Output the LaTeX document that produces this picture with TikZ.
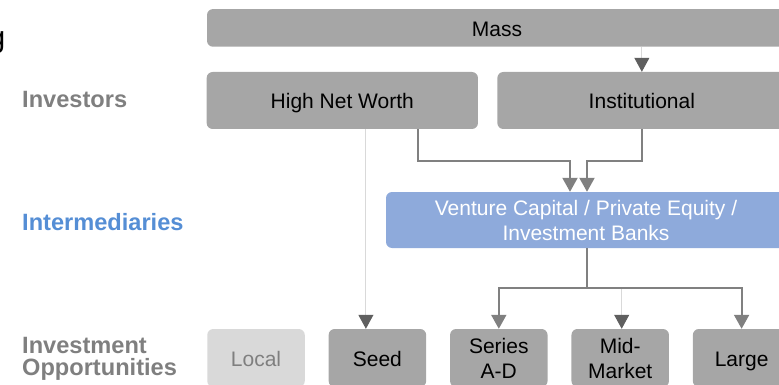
\documentclass[tikz,border=0pt]{standalone}
\usepackage{fontspec}
\setmainfont{Liberation Sans}
\usepackage{xcolor}
\definecolor{boxgray}{HTML}{A6A6A6}
\definecolor{localgray}{HTML}{D9D9D9}
\definecolor{txtgray}{HTML}{7F7F7F}
\definecolor{linegray}{HTML}{808080}
\definecolor{lightline}{HTML}{D9D9D9}
\definecolor{tipdark}{HTML}{5F5F5F}
\definecolor{vcblue}{HTML}{8EAADB}
\definecolor{labelblue}{HTML}{558ED5}
\usetikzlibrary{positioning, arrows.meta}

\begin{document}
\begin{tikzpicture}[x=1pt, y=-1pt,
    box/.style={rectangle, fill=boxgray, rounded corners=6pt, inner sep=0pt,
                align=center, font=\fontsize{21}{25}\selectfont},
    oneline/.style={text height=16.5pt, text depth=0pt},
    oppbox/.style={box, minimum width=97.5pt, minimum height=58pt},
    vcbox/.style={box, fill=vcblue, text=white},
    rowlbl/.style={font=\fontsize{23.6}{22}\selectfont\bfseries, text=txtgray, inner sep=0pt},
    thickarr/.style={-{Triangle[length=14pt, width=15pt]}, line width=2pt, linegray},
    thinarr/.style={-{Triangle[length=14pt, width=15pt, color=tipdark]}, line width=1pt, lightline},
  ]
    \useasboundingbox (0,0) rectangle (779,385);
    \clip (0,0) rectangle (779,385);

    % --- Row labels ---
    \node[font=\fontsize{30}{36}\selectfont, anchor=base east, inner sep=0pt] (title) at (5.5,48) {g};
    \node[rowlbl, anchor=base west] (investors) at (22,108) {Investors};
    \node[rowlbl, text=labelblue, anchor=base west] (intermed) at (22,230) {Intermediaries};
    \node[rowlbl, anchor=north west, align=left] (opps) at (22,337) {Investment\\Opportunities};

    % --- Investors ---
    \node[box, oneline, minimum width=580pt, minimum height=37.7pt] (mass) at (497,27.9) {Mass};
    \node[box, oneline, minimum width=271.3pt, minimum height=57pt] (hnw) at (342.3,100.5) {High Net Worth};
    \node[box, oneline, minimum width=289pt, minimum height=57pt, right=19pt of hnw] (inst) {Institutional};

    % --- Intermediaries ---
    \node[vcbox, minimum width=400pt, minimum height=56pt] (vc) at (586,220)
      {Venture Capital / Private Equity /\\Investment Banks};

    % --- Investment opportunities ---
    \node[oppbox, oneline, fill=localgray, text=txtgray] (local) at (256,358) {Local};
    \node[oppbox, oneline, right=23.5pt of local]  (seed)   {Seed};
    \node[oppbox, right=23.5pt of seed]            (series) {Series\\A-D};
    \node[oppbox, right=23.5pt of series]          (mid)    {Mid-\\Market};
    \node[oppbox, oneline, right=23.5pt of mid]    (large)  {Large};

    % --- Arrows investors ---
    \draw[thinarr] (mass.south -| inst.north) -- (inst.north);
    \coordinate (seedin) at ([xshift=-11.5pt]seed.north);
    \draw[thinarr] (hnw.south -| seedin) -- (seedin);
    \draw[thickarr] ([xshift=75.7pt]hnw.south) -- ++(0,32) -| ([xshift=-16pt]vc.north);
    \draw[thickarr] ([xshift=0.5pt]inst.south) -- ++(0,32) -| ([xshift=1pt]vc.north);

    % --- Arrows intermediaries ---
    \coordinate (split) at ([xshift=1pt, yshift=-40pt]vc.south);
    \draw[thinarr] ([xshift=1.5pt]split -| mid.north) -- ([xshift=1.5pt]mid.north);
    \draw[thickarr] ([xshift=1pt]vc.south) -- (split) -| (series.north);
    \draw[thickarr] (split) -| (large.north);
\end{tikzpicture}
\end{document}
